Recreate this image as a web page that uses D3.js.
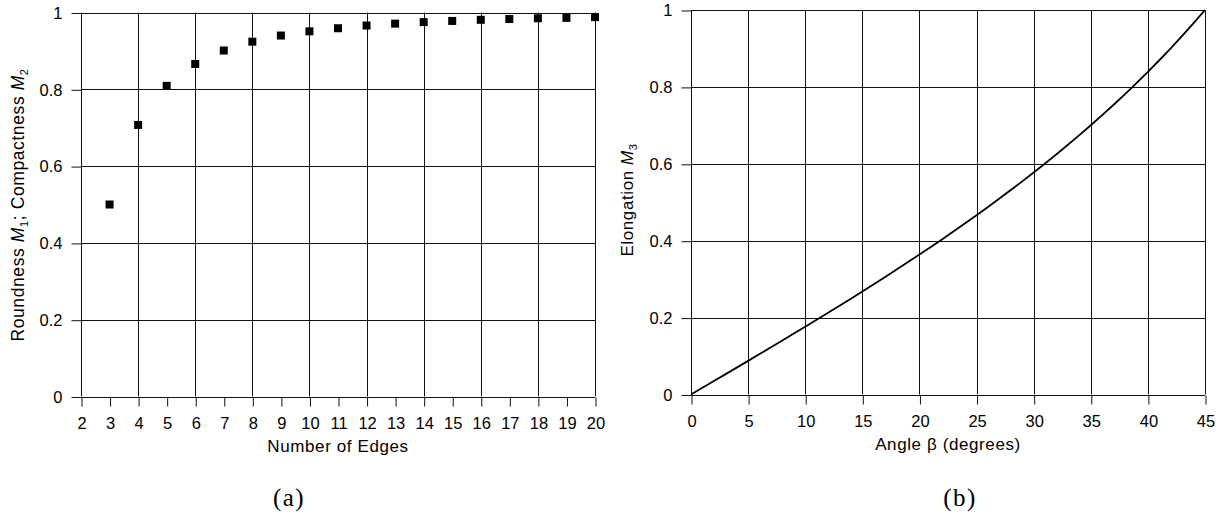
<!DOCTYPE html>
<html><head><meta charset="utf-8">
<script src="https://cdn.jsdelivr.net/npm/d3@7"></script>
<style>body{margin:0;background:#fff}svg{display:block}</style>
</head><body>
<svg id="c" width="1227" height="515"></svg>
<script>
// Panel (a) data
const edges = [3,4,5,6,7,8,9,10,11,12,13,14,15,16,17,18,19,20];
const roundness = [0.500,0.707,0.809,0.866,0.901,0.924,0.940,0.951,0.959,0.966,0.971,0.975,0.978,0.981,0.983,0.985,0.986,0.988];
const edgeTicks = [2,3,4,5,6,7,8,9,10,11,12,13,14,15,16,17,18,19,20];
const edgeGrid = [2,4,6,8,10,12,14,16,18,20];
// Panel (b) data
const angles = [0,1,2,3,4,5,6,7,8,9,10,11,12,13,14,15,16,17,18,19,20,21,22,23,24,25,26,27,28,29,30,31,32,33,34,35,36,37,38,39,40,41,42,43,44,45];
const elongation = [0,0.0175,0.0349,0.0524,0.0699,0.0875,0.1051,0.1228,0.1405,0.1584,0.1763,0.1944,0.2126,0.2309,0.2493,0.2679,0.2867,0.3057,0.3249,0.3443,0.3640,0.3839,0.4040,0.4245,0.4452,0.4663,0.4877,0.5095,0.5317,0.5543,0.5774,0.6009,0.6249,0.6494,0.6745,0.7002,0.7265,0.7536,0.7813,0.8098,0.8391,0.8693,0.9004,0.9325,0.9657,1.0];
const angleTicks = [0,5,10,15,20,25,30,35,40,45];
const yTicks = [0,0.2,0.4,0.6,0.8,1];
const yTickLabels = ["0","0.2","0.4","0.6","0.8","1"];

const svg = d3.select("#c");
const font = "Liberation Sans, Arial, sans-serif";
const serif = "Liberation Serif, Times New Roman, serif";

function panel(opts){
  const g = svg.append("g");
  const x = d3.scaleLinear().domain(opts.xDomain).range([opts.x0, opts.x1]);
  const y = d3.scaleLinear().domain([0,1]).range([opts.y0, opts.y1]);
  g.selectAll("line.h").data(yTicks).join("line")
    .attr("x1", opts.x0).attr("x2", opts.x1)
    .attr("y1", d=>Math.round(y(d))+0.5).attr("y2", d=>Math.round(y(d))+0.5)
    .attr("stroke","#111").attr("stroke-width",1);
  g.selectAll("line.v").data(opts.grid).join("line")
    .attr("x1", d=>Math.round(x(d))+0.5).attr("x2", d=>Math.round(x(d))+0.5)
    .attr("y1", opts.y1).attr("y2", opts.y0)
    .attr("stroke","#111").attr("stroke-width",1);
  const xa = g.append("g").attr("transform",`translate(0.5,${Math.round(y(0))+0.5})`)
    .call(d3.axisBottom(x).tickValues(opts.ticks).tickFormat(d3.format("d")).tickSize(9).tickSizeOuter(0).tickPadding(11));
  xa.select(".domain").remove();
  xa.selectAll("line").attr("stroke","#111");
  xa.selectAll("text").attr("font-family",font).attr("font-size",16.5).attr("fill","#000");
  const ya = g.append("g").attr("transform",`translate(${Math.round(x(opts.xDomain[0]))+0.5},0.5)`)
    .call(d3.axisLeft(y).tickValues(yTicks).tickFormat((d,i)=>yTickLabels[i]).tickSize(10).tickSizeOuter(0).tickPadding(9));
  ya.select(".domain").remove();
  ya.selectAll("line").attr("stroke","#111");
  ya.selectAll("text").attr("font-family",font).attr("font-size",16.5).attr("fill","#000");
  return {g,x,y};
}

function title(g, x, y, rot){
  return g.append("text").attr("transform",`translate(${x},${y})` + (rot?" rotate(-90)":""))
    .attr("text-anchor","middle").attr("font-family",font).attr("font-size",17)
    .attr("letter-spacing","0.6px").attr("fill","#000");
}

// Panel a
const A = panel({xDomain:[2,20], x0:81, x1:595, y0:396.5, y1:12.5, grid:edgeGrid, ticks:edgeTicks});
A.g.selectAll("rect.pt").data(edges).join("rect")
  .attr("x",(d)=>A.x(d)-4).attr("y",(d,i)=>A.y(roundness[i])-4)
  .attr("width",8).attr("height",8).attr("fill","#000");
title(A.g, 338, 452, false).text("Number of Edges");
const ta = title(A.g, 24, 205, true).attr("font-size",17.5);
ta.append("tspan").text("Roundness ");
ta.append("tspan").attr("font-style","italic").text("M");
ta.append("tspan").attr("font-size",11).attr("dy",4).text("1");
ta.append("tspan").attr("dy",-4).text("; Compactness ");
ta.append("tspan").attr("font-style","italic").text("M");
ta.append("tspan").attr("font-size",11).attr("dy",4).text("2");
svg.append("text").attr("x",289).attr("y",506).attr("text-anchor","middle")
  .attr("font-family",serif).attr("font-size",25).attr("letter-spacing","1.5px").text("(a)");

// Panel b
const B = panel({xDomain:[0,45], x0:691, x1:1205, y0:394.5, y1:10, grid:angleTicks, ticks:angleTicks});
B.g.append("path").datum(angles)
  .attr("d", d3.line().x(d=>B.x(d)).y((d,i)=>B.y(elongation[i])))
  .attr("fill","none").attr("stroke","#000").attr("stroke-width",1.8);
title(B.g, 948, 450, false).text("Angle β (degrees)");
const tb = title(B.g, 633, 200, true);
tb.append("tspan").text("Elongation ");
tb.append("tspan").attr("font-style","italic").text("M");
tb.append("tspan").attr("font-size",11).attr("dy",4).text("3");
svg.append("text").attr("x",960).attr("y",506).attr("text-anchor","middle")
  .attr("font-family",serif).attr("font-size",25).attr("letter-spacing","1.5px").text("(b)");
</script>
</body></html>
